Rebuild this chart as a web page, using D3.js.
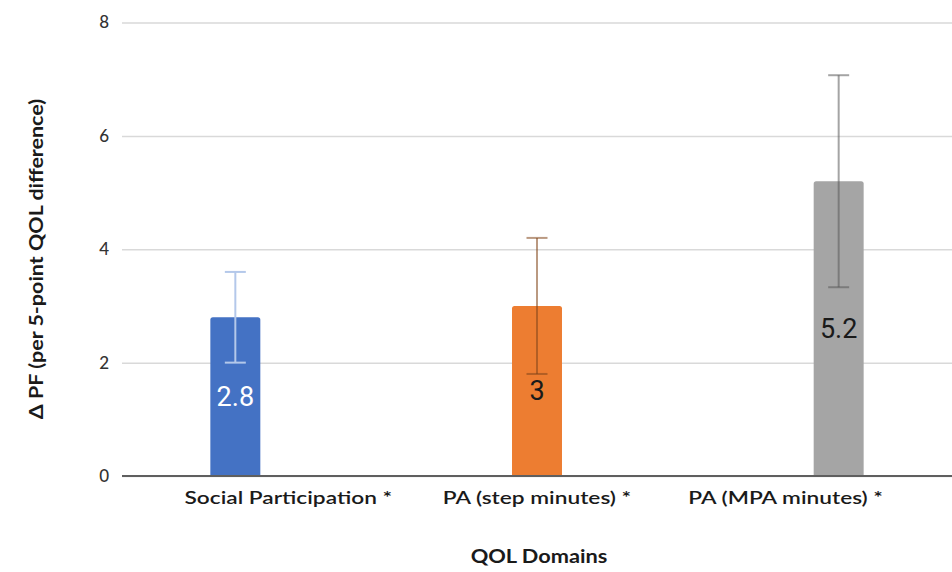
<!DOCTYPE html>
<html>
<head>
<meta charset="utf-8">
<script src="https://cdn.jsdelivr.net/npm/d3@7"></script>
<style>
  html, body { margin: 0; padding: 0; background: #fff; }
  svg { display: block; }
</style>
</head>
<body>
<svg id="chart" width="952" height="572"></svg>
<script>
// Effect of QOL domains on physical function, with confidence intervals.
// Clustered layout: one series per domain, each drawn in its own slot.
const categories = ["Social Participation *", "PA (step minutes) *", "PA (MPA minutes) *"];
const values = [2.8, 3, 5.2];
const lower = [2.0, 1.8, 3.33];
const upper = [3.6, 4.2, 7.07];
const barColors = ["#4472c4", "#ed7d31", "#a5a5a5"];
const errColors = ["#b4c8ea", "rgba(130,70,25,0.55)", "rgba(90,90,90,0.55)"];
const labelColors = ["#ffffff", "#1a1a1a", "#1a1a1a"];
const yTicks = [0, 2, 4, 6, 8];

const svg = d3.select("#chart");
const plotLeft = 122, plotRight = 952, plotTop = 22.5, plotBottom = 476;
const font = "Lato, 'Open Sans', sans-serif";

// Category bands (label positions) and series slots within a band
const x = d3.scaleBand()
  .domain(categories)
  .range([164, 910]);
const slot = d3.scaleBand()
  .domain(d3.range(categories.length))
  .range([-79.5, 79.5])
  .paddingInner(0.057)
  .paddingOuter(0.0285);
const barX = i => x(categories[i]) + x.bandwidth() / 2 + slot(i);
const barMid = i => barX(i) + slot.bandwidth() / 2;

const y = d3.scaleLinear().domain([0, 8]).range([plotBottom, plotTop]);

// Horizontal gridlines and value ticks
const yAxis = d3.axisLeft(y).tickValues(yTicks).tickSize(-(plotRight - plotLeft)).tickPadding(13);
const gy = svg.append("g").attr("transform", `translate(${plotLeft},0)`).call(yAxis);
gy.select(".domain").remove();
gy.selectAll(".tick line").attr("stroke", "#d9d9d9").attr("stroke-width", 1.5);
gy.selectAll(".tick text")
  .attr("font-family", font)
  .attr("font-size", 17)
  .attr("font-weight", 500)
  .attr("fill", "#333");

// Bars with slightly rounded top corners
const r = 2.5;
svg.append("g").selectAll("path")
  .data(values)
  .join("path")
  .attr("fill", (d, i) => barColors[i])
  .attr("d", (d, i) => {
    const x0 = barX(i), w = slot.bandwidth(), y0 = y(d), yb = y(0);
    return `M${x0},${yb}V${y0 + r}Q${x0},${y0} ${x0 + r},${y0}H${x0 + w - r}Q${x0 + w},${y0} ${x0 + w},${y0 + r}V${yb}Z`;
  });

// Baseline
svg.append("line")
  .attr("x1", plotLeft).attr("x2", plotRight)
  .attr("y1", y(0)).attr("y2", y(0))
  .attr("stroke", "#5f5f5f").attr("stroke-width", 1.8);

// Error bars
const cap = 10.5;
const eg = svg.append("g").selectAll("g")
  .data(values)
  .join("g")
  .attr("stroke", (d, i) => errColors[i])
  .attr("stroke-width", 2);
eg.append("line")
  .attr("x1", (d, i) => barMid(i)).attr("x2", (d, i) => barMid(i))
  .attr("y1", (d, i) => y(upper[i])).attr("y2", (d, i) => y(lower[i]));
eg.append("line")
  .attr("x1", (d, i) => barMid(i) - cap).attr("x2", (d, i) => barMid(i) + cap)
  .attr("y1", (d, i) => y(upper[i])).attr("y2", (d, i) => y(upper[i]));
eg.append("line")
  .attr("x1", (d, i) => barMid(i) - cap).attr("x2", (d, i) => barMid(i) + cap)
  .attr("y1", (d, i) => y(lower[i])).attr("y2", (d, i) => y(lower[i]));

// Value labels centred in each bar
svg.append("g").selectAll("text")
  .data(values)
  .join("text")
  .attr("x", (d, i) => barMid(i))
  .attr("y", d => (y(d) + y(0)) / 2)
  .attr("text-anchor", "middle")
  .attr("dominant-baseline", "central")
  .attr("font-family", "Roboto, sans-serif")
  .attr("font-size", 27)
  .attr("fill", (d, i) => labelColors[i])
  .text(d => d3.format("~g")(d));

// Category labels (wide-set face)
svg.append("g").selectAll("text")
  .data(categories)
  .join("text")
  .attr("transform", d => `translate(${x(d) + x.bandwidth() / 2},504) scale(1.26,1)`)
  .attr("text-anchor", "middle")
  .attr("font-family", font)
  .attr("font-size", 18)
  .attr("font-weight", 600)
  .attr("fill", "#1a1a1a")
  .text(d => d);

// Axis titles
svg.append("text")
  .attr("transform", "translate(539,563) scale(1.21,1)")
  .attr("text-anchor", "middle")
  .attr("font-family", font)
  .attr("font-size", 18)
  .attr("font-weight", 700)
  .attr("fill", "#1a1a1a")
  .text("QOL Domains");

svg.append("text")
  .attr("transform", "translate(43,259) rotate(-90) scale(1.13,1)")
  .attr("text-anchor", "middle")
  .attr("font-family", font)
  .attr("font-size", 19)
  .attr("font-weight", 700)
  .attr("fill", "#1a1a1a")
  .text("Δ PF (per 5-point QOL difference)");
</script>
</body>
</html>
